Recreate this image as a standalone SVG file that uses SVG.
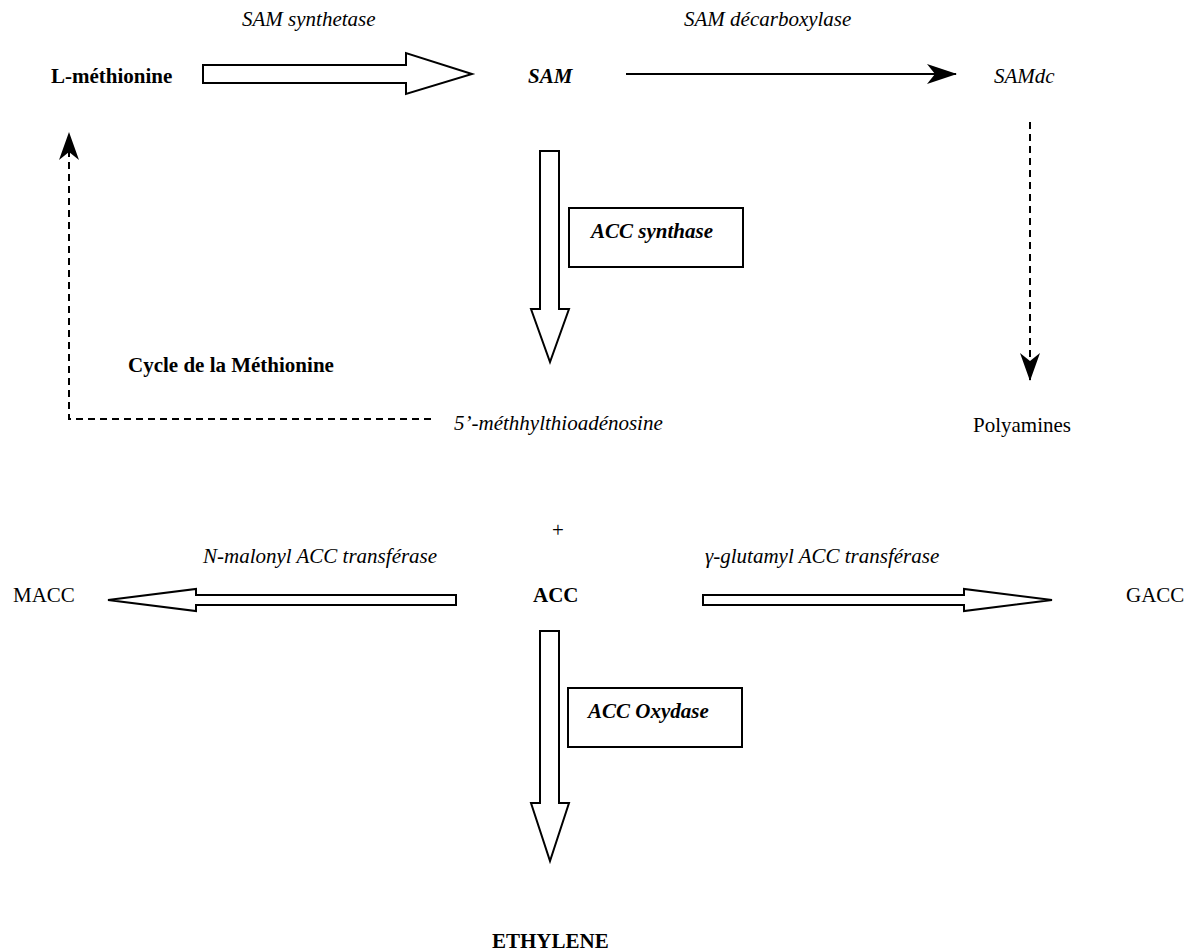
<svg xmlns="http://www.w3.org/2000/svg" width="1188" height="952" viewBox="0 0 1188 952">
<defs>
<style>
text{font-family:"Liberation Serif","Times New Roman",serif;font-size:21px;fill:#000}
.i{font-style:italic}
.b{font-weight:bold}
.bi{font-weight:bold;font-style:italic}
.hollow{fill:#fff;stroke:#000;stroke-width:2;stroke-linejoin:miter}
.box{fill:#fff;stroke:#000;stroke-width:2}
.solid{fill:none;stroke:#000;stroke-width:2}
.dash{fill:none;stroke:#000;stroke-width:2;stroke-dasharray:7,5}
</style>
<marker id="stealth" viewBox="0 0 30 20" refX="29" refY="10" markerWidth="30" markerHeight="20" markerUnits="userSpaceOnUse" orient="auto">
<path d="M0,0 L30,10 L0,20 L8,10 Z" fill="#000"/>
</marker>
<marker id="stealthS" viewBox="0 0 28 20" refX="27" refY="10" markerWidth="28" markerHeight="20" markerUnits="userSpaceOnUse" orient="auto">
<path d="M0,0 L28,10 L0,20 L8,10 Z" fill="#000"/>
</marker>
</defs>
<rect width="1188" height="952" fill="#fff"/>

<g id="connectors">
<path id="c-met-sam" class="hollow" d="M203,65 L406,65 L406,53 L472,74 L406,94 L406,83 L203,83 Z"/>
<line id="c-sam-samdc" class="solid" x1="626" y1="74" x2="956" y2="74" marker-end="url(#stealth)"/>
<line id="c-samdc-poly" class="dash" x1="1030" y1="122" x2="1030" y2="380" marker-end="url(#stealthS)"/>
<path id="c-sam-mta" class="hollow" d="M540,151 L559,151 L559,309 L569,309 L550,362 L531,309 L540,309 Z"/>
<polyline id="c-mta-met" class="dash" points="431,419 69,419 69,133" marker-end="url(#stealthS)"/>
<path id="c-acc-macc" class="hollow" d="M456,595 L196,595 L196,589 L108,600 L196,611 L196,605 L456,605 Z"/>
<path id="c-acc-gacc" class="hollow" d="M703,595 L964,595 L964,589 L1052,600 L964,611 L964,605 L703,605 Z"/>
<path id="c-acc-eth" class="hollow" d="M540,631 L559,631 L559,803 L569,803 L550,861 L531,803 L540,803 Z"/>
</g>

<g id="n-methionine"><text class="b" x="51" y="83">L-méthionine</text></g>
<g id="n-sam-synthetase"><text class="i" x="242" y="26">SAM synthetase</text></g>
<g id="n-sam"><text class="bi" x="528" y="83">SAM</text></g>
<g id="n-sam-decarboxylase"><text class="i" x="684" y="26">SAM décarboxylase</text></g>
<g id="n-samdc"><text class="i" x="994" y="83">SAMdc</text></g>
<g id="n-acc-synthase"><rect class="box" x="569" y="208" width="174" height="59"/><text class="bi" x="591" y="238">ACC synthase</text></g>
<g id="n-cycle"><text class="b" x="128" y="372">Cycle de la Méthionine</text></g>
<g id="n-mta"><text class="i" x="454" y="430">5’-méthhylthioadénosine</text></g>
<g id="n-polyamines"><text x="973" y="432">Polyamines</text></g>
<g id="n-plus"><text x="552" y="537">+</text></g>
<g id="n-nmalonyl"><text class="i" x="203" y="563">N-malonyl ACC transférase</text></g>
<g id="n-gglutamyl"><text class="i" x="705" y="563">γ-glutamyl ACC transférase</text></g>
<g id="n-macc"><text x="13" y="602">MACC</text></g>
<g id="n-acc"><text class="b" x="533" y="602">ACC</text></g>
<g id="n-gacc"><text x="1126" y="602">GACC</text></g>
<g id="n-acc-oxydase"><rect class="box" x="568" y="688" width="174" height="59"/><text class="bi" x="588" y="718">ACC Oxydase</text></g>
<g id="n-ethylene"><text class="b" x="492" y="948">ETHYLENE</text></g>
</svg>
